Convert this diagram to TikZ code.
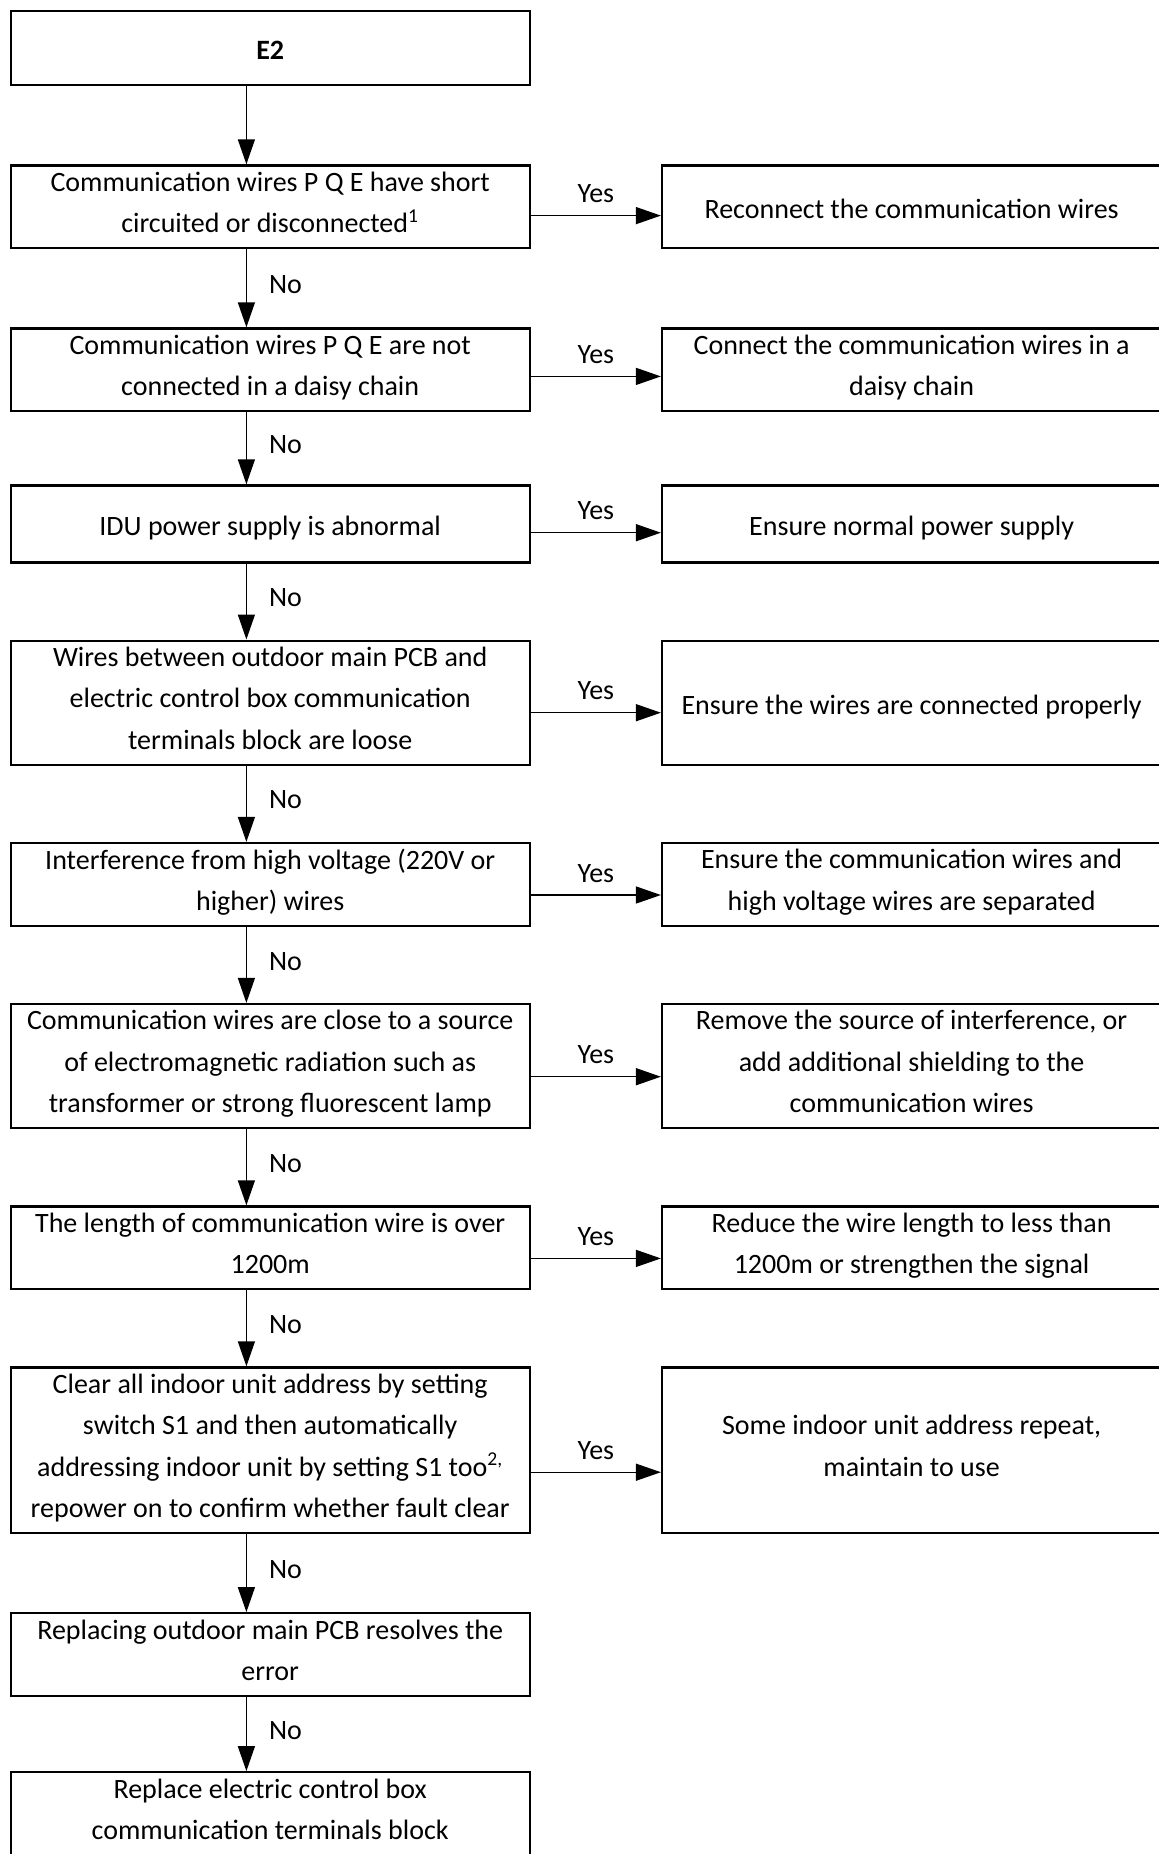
\documentclass[tikz,border=0pt]{standalone}
\usepackage{fontspec}
\setmainfont{Carlito}
\usetikzlibrary{arrows.meta,positioning}
\newcommand{\boxstrut}{\rule[-4.5pt]{0pt}{20.7pt}}

\begin{document}
\begin{tikzpicture}[
    node distance=38pt,
    stepbox/.style={rectangle, draw, line width=1.1pt, align=center, minimum width=259.6pt, inner xsep=4pt, inner ysep=0pt, font=\fontsize{14}{20.7}\selectfont, execute at begin node=\boxstrut, execute at end node=\boxstrut},
    fixbox/.style={stepbox, minimum width=249.6pt},
    arrow/.style={-{Triangle[length=12.5pt, width=8.5pt]}, line width=0.7pt},
    lbl/.style={font=\fontsize{14}{20.7}\selectfont, inner sep=2pt}
]
\useasboundingbox (0,0) rectangle (579pt,-927pt);

% Checks
\node[stepbox, minimum height=37.3pt, anchor=north west] (e2) at (4.75pt,-4.75pt) {\textbf{E2}};
\node[stepbox, minimum height=41.4pt, below=39pt of e2] (q1) {Communication wires P Q E have short\\circuited or disconnected\textsuperscript{1}};
\node[stepbox, minimum height=41.4pt, below=39pt of q1] (q2) {Communication wires P Q E are not\\connected in a daisy chain};
\node[stepbox, minimum height=38.5pt, below=36pt of q2] (q3) {IDU power supply is abnormal};
\node[stepbox, minimum height=62.1pt, below=of q3] (q4) {Wires between outdoor main PCB and\\electric control box communication\\terminals block are loose};
\node[stepbox, minimum height=41.4pt, below=of q4] (q5) {Interference from high voltage (220V or\\higher) wires};
\node[stepbox, minimum height=62.1pt, below=of q5] (q6) {Communication wires are close to a source\\of electromagnetic radiation such as\\transformer or strong fluorescent lamp};
\node[stepbox, minimum height=41.4pt, below=of q6] (q7) {The length of communication wire is over\\1200m};
\node[stepbox, minimum height=82.8pt, below=of q7] (q8) {Clear all indoor unit address by setting\\switch S1 and then automatically\\addressing indoor unit by setting S1 too\textsuperscript{2,}\\repower on to confirm whether fault clear};
\node[stepbox, minimum height=41.4pt, below=39pt of q8] (q9) {Replacing outdoor main PCB resolves the\\error};
\node[stepbox, minimum height=41.4pt, below=37pt of q9] (q10) {Replace electric control box\\communication terminals block};

% Fixes
\node[fixbox, minimum height=41.4pt, right=65pt of q1] (a1) {Reconnect the communication wires};
\node[fixbox, minimum height=41.4pt, right=65pt of q2] (a2) {Connect the communication wires in a\\daisy chain};
\node[fixbox, minimum height=38.5pt, right=65pt of q3] (a3) {Ensure normal power supply};
\node[fixbox, minimum height=62.1pt, right=65pt of q4] (a4) {Ensure the wires are connected properly};
\node[fixbox, minimum height=41.4pt, right=65pt of q5] (a5) {Ensure the communication wires and\\high voltage wires are separated};
\node[fixbox, minimum height=62.1pt, right=65pt of q6] (a6) {Remove the source of interference, or\\add additional shielding to the\\communication wires};
\node[fixbox, minimum height=41.4pt, right=65pt of q7] (a7) {Reduce the wire length to less than\\1200m or strengthen the signal};
\node[fixbox, minimum height=82.8pt, right=65pt of q8] (a8) {Some indoor unit address repeat,\\maintain to use};

% No arrows
\draw[arrow] ([xshift=-11.9pt]e2.south) -- ([xshift=-11.9pt]q1.north);
\foreach \i/\j in {q1/q2, q2/q3, q3/q4, q4/q5, q5/q6, q6/q7, q7/q8, q8/q9, q9/q10}
  \draw[arrow] ([xshift=-11.9pt]\i.south) -- node[lbl, pos=0.45, right=9pt] {No} ([xshift=-11.9pt]\j.north);

% Yes arrows
\foreach \i/\j/\d in {q1/a1/4.4, q2/a2/3.3, q3/a3/4.4, q4/a4/5, q5/a5/5.3, q6/a6/5.3, q7/a7/5.3, q8/a8/11}
  \draw[arrow] ([yshift=-\d pt]\i.east) -- node[lbl, above=4pt] {Yes} ([yshift=-\d pt]\j.west);
\end{tikzpicture}
\end{document}
